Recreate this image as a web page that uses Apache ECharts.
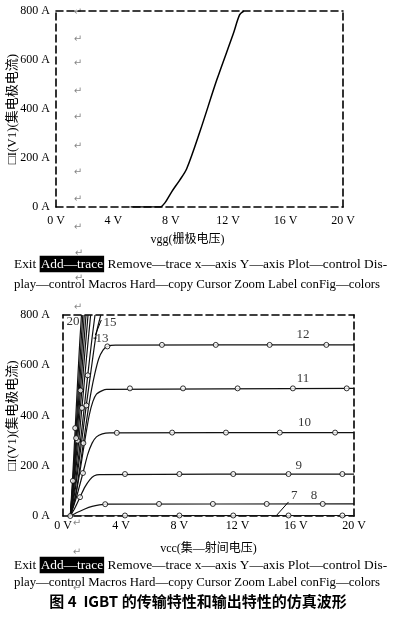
<!DOCTYPE html>
<html><head><meta charset="utf-8">
<script src="https://cdn.jsdelivr.net/npm/echarts/dist/echarts.min.js"></script>
<style>html,body{margin:0;padding:0;background:#fff}#c{width:395px;height:631px}</style>
</head><body><div id="c"></div>
<script>
// ---------- data ----------
// transfer characteristic: vgg (V) -> I(V1) (A)
const transferCurve = [[5.2,0],[7.25,0],[7.6,18],[8.06,62],[8.6,108],[9.1,155],[10.03,308],[11.2,518],[12.36,708],[12.8,785],[13.1,800]];

// output characteristics: vce (V) -> I(V1) (A), one per vgg
const vgg7  = [[0.5,0],[1.5,1],[20,2]];
const vgg8  = [[0.5,0],[1.0,15],[1.5,28],[2.0,38],[2.5,44],[3.0,47],[20,48]];
const vgg9  = [[0.5,0],[0.8,30],[1.17,75],[1.5,115],[1.85,145],[2.15,160],[2.5,165],[20,167]];
const vgg10 = [[0.5,0],[0.9,70],[1.37,171],[1.7,245],[2.0,290],[2.3,315],[2.7,327],[3.2,331],[20,332]];
const vgg11 = [[0.5,0],[0.9,90],[1.2,190],[1.5,300],[1.8,400],[2.05,455],[2.3,485],[2.7,499],[3.0,504],[20,508]];
const vgg12 = [[0.5,0],[0.8,60],[1.1,170],[1.4,290],[1.76,435],[1.95,500],[2.18,565],[2.45,625],[2.75,660],[3.05,675],[3.6,680],[20,681]];
const vgg13 = [[0.5,0],[0.8,90],[1.2,260],[1.6,440],[2.0,610],[2.3,730],[2.6,800]];
const vgg14 = [[0.5,0],[0.8,110],[1.1,250],[1.4,400],[1.7,560],[2.0,710],[2.2,800]];
const vgg15 = [[0.5,0],[0.75,115],[1.0,250],[1.3,430],[1.6,620],[1.9,800]];
const vgg16 = [[0.5,0],[0.75,135],[1.0,300],[1.25,470],[1.5,650],[1.72,800]];
const vgg17 = [[0.5,0],[0.7,120],[0.95,310],[1.2,500],[1.4,660],[1.58,800]];
const vgg18 = [[0.5,0],[0.7,140],[0.9,310],[1.1,480],[1.3,660],[1.46,800]];
const vgg19 = [[0.5,0],[0.68,140],[0.88,330],[1.05,500],[1.22,670],[1.36,800]];
const vgg20 = [[0.5,0],[0.66,150],[0.84,350],[1.0,530],[1.15,690],[1.27,800]];
const outputCurves = [vgg7,vgg8,vgg9,vgg10,vgg11,vgg12,vgg13,vgg14,vgg15,vgg16,vgg17,vgg18,vgg19,vgg20];

// circle markers sitting on the curves
const markers7  = [[0.5,0],[4.26,2],[8.0,2],[11.7,2],[15.5,2],[19.2,2]];
const markers8  = [[2.9,47],[6.6,48],[10.3,48],[14.0,48],[17.85,48]];
const markers9  = [[1.17,75],[4.26,167],[8.0,167],[11.7,167],[15.5,167],[19.2,167]];
const markers10 = [[1.37,171],[3.7,331],[7.5,332],[11.2,332],[14.9,332],[18.7,332]];
const markers11 = [[4.6,508],[8.25,508],[12.0,508],[15.8,508],[19.5,508]];
const markers12 = [[1.4,290],[3.05,675],[6.8,681],[10.5,681],[14.2,681],[18.1,681]];
const markers13 = [[1.6,440]];
const markers14 = [[1.7,560]];
const markers15 = [[1.3,430]];
const markers16 = [[1.0,300]];
const markers17 = [[1.2,500]];
const markers18 = [[0.9,310]];
const markers19 = [[0.68,140]];
const markers20 = [[0.84,350]];
const allMarkers = [].concat(markers7,markers8,markers9,markers10,markers11,markers12,markers13,markers14,markers15,markers16,markers17,markers18,markers19,markers20);

// curve labels [vce, I, text]
const curveLabels = [[16.5,724,'12'],[16.5,545,'11'],[16.6,370,'10'],[16.2,200,'9'],[17.25,81,'8'],[15.9,81,'7'],[2.68,708,'13'],[3.23,768,'15'],[0.69,772,'20']];
// leader lines for labels
const leader7  = [[15.5,56],[14.7,4]];
const leader13 = [[2.3,708],[2.1,708]];
const leader15 = [[2.63,780],[2.22,720]];

// axis texts
const yName = '□I(V1)(集电极电流)';
const xNameTop = 'vgg(栅极电压)';
const xNameBottom = 'vcc(集—射间电压)';
const menuLine1 = 'Exit {h|Add—trace} Remove—trace x—axis Y—axis Plot—control Dis-';
const menuLine2 = 'play—control Macros Hard—copy Cursor Zoom Label conFig—colors';
const caption = '图 4  IGBT 的传输特性和输出特性的仿真波形';

// ---------- chart ----------
const chart = echarts.init(document.getElementById('c'));
const serif = '"Liberation Serif", "Noto Sans CJK SC", serif';
const dash = {color:'#000', width:1.6, type:[7,4]};
const tickFont = {fontFamily:serif, fontSize:12, color:'#000'};

function xAx(grid, pos, labels, name, gap, pad) {
  return {gridIndex:grid, type:'value', min:0, max:20, interval:4, position:pos,
    axisLine:{show:true, onZero:false, lineStyle:dash}, axisTick:{show:false}, splitLine:{show:false},
    axisLabel: labels ? Object.assign({formatter: v => v + ' V', margin:gap}, tickFont) : {show:false},
    name: name || '', nameLocation:'middle', nameGap:27, nameMoveOverlap:false,
    nameTextStyle:{fontFamily:serif, fontSize:12, color:'#000', padding:pad||0}};
}
function yAx(grid, pos, labels, gap, nameGap) {
  return {gridIndex:grid, type:'value', min:0, max:800, interval:200, position:pos,
    axisLine:{show:true, onZero:false, lineStyle:dash}, axisTick:{show:false}, splitLine:{show:false},
    axisLabel: labels ? Object.assign({formatter: v => v + ' A', margin:gap}, tickFont) : {show:false},
    name: labels ? yName : '', nameLocation:'middle', nameGap:nameGap, nameMoveOverlap:false,
    nameTextStyle:{fontFamily:serif, fontSize:13, color:'#000'}};
}

const series = [];
series.push({type:'line', xAxisIndex:0, yAxisIndex:0, data:transferCurve, symbol:'none', smooth:0.3,
  lineStyle:{color:'#000', width:1.5}, silent:true});
outputCurves.forEach(c => series.push({type:'line', xAxisIndex:2, yAxisIndex:2, data:c, symbol:'none', smooth:0.25,
  lineStyle:{color:'#111', width:1.2}, silent:true}));
[leader7, leader13, leader15].forEach(l => series.push({type:'line', xAxisIndex:2, yAxisIndex:2, data:l, symbol:'none',
  lineStyle:{color:'#000', width:1}, silent:true}));
series.push({type:'scatter', xAxisIndex:2, yAxisIndex:2, data:allMarkers, symbol:'circle', symbolSize:5,
  itemStyle:{color:'#fff', borderColor:'#000', borderWidth:1}, silent:true, z:5});
series.push({type:'scatter', xAxisIndex:2, yAxisIndex:2, data:curveLabels, symbolSize:1,
  itemStyle:{color:'rgba(0,0,0,0)'}, silent:true, z:6,
  label:{show:true, position:'inside', formatter:p => p.data[2], fontFamily:serif, fontSize:13, color:'#000'}});

const retMarks = [[78,12],[78,39],[78,63],[78,91],[78,117],[78,146],[78,172],[78,199],[78,227],[79,253],[79,278],[78,307],[77,523],[77,552],[77,588]];
const graphics = retMarks.map(p => ({type:'text', x:p[0], y:p[1], style:{text:'↵', font:'10px "DejaVu Sans"', fill:'#888', align:'center', verticalAlign:'middle'}, silent:true}));
const menuStyle1 = {font:'13.4px ' + serif, fill:'#000', verticalAlign:'middle',
  rich:{h:{backgroundColor:'#000', fill:'#fff', padding:[2,1,1,1], font:'13.4px ' + serif}}};
const menuStyle2 = {font:'12.8px ' + serif, fill:'#000', verticalAlign:'middle'};
graphics.push({type:'text', x:14, y:264, style:Object.assign({text:menuLine1}, menuStyle1)});
graphics.push({type:'text', x:14, y:285, style:Object.assign({text:menuLine2}, menuStyle2)});
graphics.push({type:'text', x:14, y:565, style:Object.assign({text:menuLine1}, menuStyle1)});
graphics.push({type:'text', x:14, y:583, style:Object.assign({text:menuLine2}, menuStyle2)});
graphics.push({type:'text', x:198, y:601, style:{text:caption, font:'bold 15px "Noto Sans CJK SC"', fill:'#000', align:'center', verticalAlign:'middle'}});

chart.setOption({
  animation:false,
  backgroundColor:'#fff',
  grid:[{left:56, top:11, width:287, height:196, outerBoundsMode:'none', containLabel:false},
        {left:63, top:315, width:291, height:201, outerBoundsMode:'none', containLabel:false}],
  xAxis:[xAx(0,'bottom',true,xNameTop,8,[0,24,0,0]), xAx(0,'top',false), xAx(1,'bottom',true,xNameBottom,4,[0,0,0,0]), xAx(1,'top',false)],
  yAxis:[yAx(0,'left',true,6,37), yAx(0,'right',false), yAx(1,'left',true,13,44), yAx(1,'right',false)],
  series:series,
  graphic:graphics
});
</script></body></html>
